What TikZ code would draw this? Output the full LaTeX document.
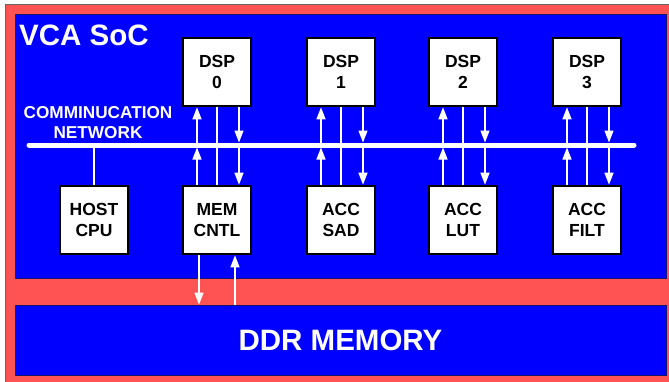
\documentclass[tikz,border=0pt]{standalone}
\usepackage{fontspec}
\setmainfont{Liberation Sans}
\usetikzlibrary{arrows.meta,calc}
\definecolor{socblue}{RGB}{0,0,255}
\definecolor{socred}{RGB}{255,82,82}
\definecolor{edgeblue}{RGB}{20,20,110}
\tikzset{
  unitbox/.style={draw=black, line width=2.6pt, fill=white, minimum width=68pt, minimum height=68pt,
    inner sep=0pt, align=center, font=\fontsize{17.5}{21}\selectfont\bfseries},
  wire/.style={draw=white, line width=1.3pt},
  uparrow/.style={wire, -{Triangle[width=9pt,length=12pt]}},
  busline/.style={draw=white, line width=5pt, line cap=round},
  whitetext/.style={text=white, inner sep=0pt, font=\bfseries}
}
\begin{document}
\begin{tikzpicture}[x=1pt,y=-1pt]
\useasboundingbox (0,0) rectangle (669,381);
% outer board
\fill[socred] (5,4) rectangle (680,390);
\draw[gray!80!black, line width=1pt] (5,390) -- (5,4) -- (680,4);
% SoC area
\draw[fill=socblue, draw=edgeblue, line width=0.8pt] (15,14) rectangle (666,278);
\node[whitetext, anchor=base west, font=\fontsize{29.5}{32}\selectfont\bfseries] (title) at (19,45) {VCA SoC};
\node[whitetext, align=center, font=\fontsize{17.2}{20}\selectfont\bfseries] (netlabel) at (98,122.5) {COMMINUCATION\\NETWORK};
% DDR
\node[fill=socblue, draw=edgeblue, line width=0.8pt, minimum width=651pt, minimum height=70pt, inner sep=0pt,
  text=white, font=\fontsize{29.5}{32}\selectfont\bfseries] (ddr) at (340.5,340) {DDR MEMORY};
% bus
\coordinate (busL) at (29,145);
\coordinate (busR) at (634,145);
\draw[busline] (busL) -- (busR);
% boxes
\node[unitbox] (dsp0) at (217,72) {DSP\\0};
\node[unitbox] (dsp1) at (341,72) {DSP\\1};
\node[unitbox] (dsp2) at (463,72) {DSP\\2};
\node[unitbox] (dsp3) at (587,72) {DSP\\3};
\node[unitbox] (host) at (94,220) {HOST\\CPU};
\node[unitbox] (mem) at (217,220) {MEM\\CNTL};
\node[unitbox] (sad) at (341,220) {ACC\\SAD};
\node[unitbox] (lut) at (463,220) {ACC\\LUT};
\node[unitbox] (filt) at (587,220) {ACC\\FILT};
% host to bus
\draw[wire] (host.north) -- (host.north |- busL);
% columns
\foreach \t/\b in {dsp0/mem, dsp1/sad, dsp2/lut, dsp3/filt}{
  \draw[uparrow, shorten >=2.5pt] ([xshift=-20pt]\b.north) -- ([xshift=-20pt]\b.north |- busL);
  \draw[uparrow] ([xshift=-20pt]\t.south |- busL) -- ([xshift=-20pt]\t.south);
  \draw[wire] (\t.south) -- (\b.north);
  \draw[uparrow, shorten >=2.5pt] ([xshift=22pt]\t.south) -- ([xshift=22pt]\t.south |- busL);
  \draw[uparrow] ([xshift=22pt]\b.north |- busL) -- ([xshift=22pt]\b.north);
}
% memory controller to DDR
\draw[uparrow] ([xshift=-18pt]mem.south) -- ([xshift=-18pt]mem.south |- ddr.north);
\draw[uparrow] ([xshift=18pt]mem.south |- ddr.north) -- ([xshift=18pt]mem.south);
\end{tikzpicture}
\end{document}
